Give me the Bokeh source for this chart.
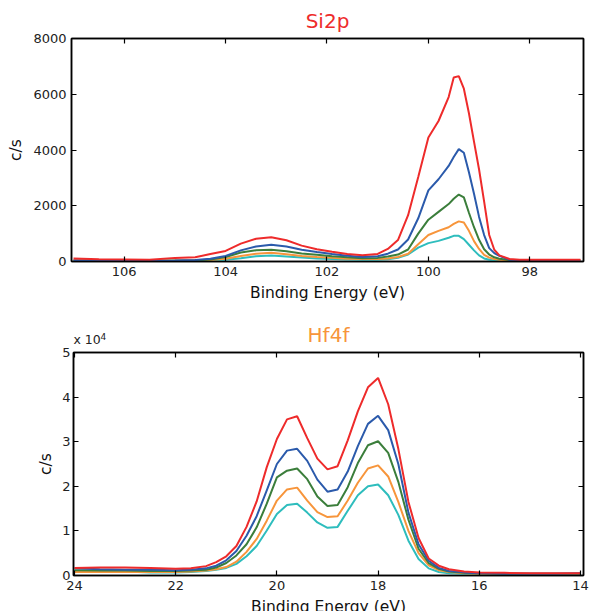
from bokeh.plotting import figure
from bokeh.layouts import column
from bokeh.models import Range1d, LinearAxis, FixedTicker, CustomJSTickFormatter
from bokeh.core.properties import value
from bokeh.embed import file_html
from bokeh.resources import INLINE

# ---------------- Si2p data (c/s) ----------------
si_energy = [107.0, 106.5, 106.0, 105.5, 105.0, 104.6, 104.3, 104.0, 103.7, 103.4,
             103.1, 102.8, 102.5, 102.2, 101.9, 101.6, 101.3, 101.0, 100.8, 100.6,
             100.4, 100.2, 100.0, 99.8, 99.6, 99.5, 99.4, 99.3, 99.2, 99.1,
             99.0, 98.9, 98.8, 98.7, 98.6, 98.4, 98.2, 98.0, 97.5, 97.0]
si_red = [110, 80, 70, 60, 130, 150, 270, 380, 640, 815,
          870, 760, 570, 440, 350, 270, 220, 270, 450, 770,
          1660, 3030, 4450, 5040, 5900, 6600, 6650, 6200, 5320, 4300,
          3300, 2150, 950, 420, 220, 90, 60, 60, 60, 60]
si_blue = [40, 30, 30, 30, 40, 50, 100, 200, 400, 540,
           600, 540, 420, 340, 270, 210, 160, 190, 280, 430,
           790, 1550, 2550, 2950, 3430, 3750, 4030, 3900, 3200, 2430,
           1600, 950, 480, 300, 200, 60, 40, 30, 30, 30]
si_green = [30, 30, 30, 30, 30, 40, 70, 160, 320, 400,
            420, 370, 290, 240, 190, 150, 120, 130, 180, 250,
            430, 1000, 1500, 1780, 2060, 2250, 2400, 2300, 1750, 1230,
            780, 440, 250, 150, 100, 50, 40, 30, 30, 30]
si_orange = [40, 40, 40, 40, 40, 40, 50, 100, 200, 280,
             310, 260, 200, 160, 130, 100, 90, 90, 110, 160,
             280, 620, 950, 1100, 1230, 1350, 1440, 1400, 1100, 730,
             450, 240, 140, 90, 60, 40, 40, 40, 40, 40]
si_teal = [30, 30, 30, 30, 30, 30, 40, 60, 120, 190,
           215, 180, 140, 110, 90, 70, 60, 60, 80, 130,
           250, 500, 660, 740, 850, 920, 920, 800, 600, 400,
           220, 110, 60, 40, 30, 30, 30, 30, 30, 30]

# ---------------- Hf4f data (units of 10^4 c/s) ----------------
hf_energy = [24.0, 23.5, 23.0, 22.5, 22.0, 21.7, 21.4, 21.2, 21.0, 20.8,
             20.6, 20.4, 20.2, 20.0, 19.8, 19.6, 19.4, 19.2, 19.0, 18.8,
             18.6, 18.4, 18.2, 18.0, 17.8, 17.6, 17.4, 17.2, 17.0, 16.8,
             16.6, 16.3, 16.0, 15.5, 15.0, 14.5, 14.0]
hf_red = [0.17, 0.18, 0.18, 0.17, 0.15, 0.16, 0.21, 0.30, 0.43, 0.66,
          1.09, 1.66, 2.43, 3.06, 3.50, 3.57, 3.08, 2.62, 2.38, 2.45,
          3.03, 3.68, 4.22, 4.43, 3.84, 2.84, 1.65, 0.84, 0.38, 0.22,
          0.14, 0.09, 0.07, 0.06, 0.05, 0.05, 0.05]
hf_blue = [0.16, 0.14, 0.13, 0.13, 0.12, 0.13, 0.16, 0.22, 0.34, 0.55,
           0.89, 1.33, 1.91, 2.50, 2.80, 2.84, 2.57, 2.15, 1.88, 1.93,
           2.33, 2.90, 3.40, 3.58, 3.26, 2.50, 1.41, 0.70, 0.33, 0.17,
           0.10, 0.07, 0.05, 0.04, 0.04, 0.04, 0.05]
hf_green = [0.12, 0.11, 0.11, 0.10, 0.10, 0.11, 0.13, 0.18, 0.28, 0.45,
            0.70, 1.08, 1.61, 2.20, 2.35, 2.40, 2.16, 1.77, 1.56, 1.58,
            1.98, 2.52, 2.92, 3.01, 2.75, 2.10, 1.25, 0.60, 0.28, 0.15,
            0.09, 0.06, 0.05, 0.04, 0.04, 0.04, 0.04]
hf_orange = [0.08, 0.08, 0.08, 0.08, 0.08, 0.09, 0.11, 0.14, 0.19, 0.31,
             0.53, 0.82, 1.23, 1.68, 1.93, 1.97, 1.68, 1.42, 1.31, 1.33,
             1.68, 2.08, 2.40, 2.47, 2.22, 1.65, 1.00, 0.50, 0.23, 0.12,
             0.08, 0.05, 0.04, 0.03, 0.03, 0.03, 0.03]
hf_teal = [0.10, 0.10, 0.09, 0.07, 0.07, 0.08, 0.10, 0.13, 0.17, 0.26,
           0.43, 0.66, 1.01, 1.38, 1.58, 1.61, 1.41, 1.19, 1.07, 1.09,
           1.45, 1.80, 2.00, 2.04, 1.80, 1.36, 0.78, 0.37, 0.16, 0.08,
           0.05, 0.04, 0.03, 0.03, 0.03, 0.03, 0.03]

si_x_ticks = [98, 100, 102, 104, 106]
si_y_ticks = [0, 2000, 4000, 6000, 8000]
hf_x_ticks = [14, 16, 18, 20, 22, 24]
hf_y_ticks = [0, 10000, 20000, 30000, 40000, 50000]

FONT = "DejaVu Sans"
RED, BLUE, GREEN, ORANGE, TEAL = "#ee2b2b", "#2b5aab", "#3b7e3b", "#f7953b", "#2ebdbd"
W = 590


def strip(h):
    """Text-only band (pixel coordinates) used for panel titles."""
    f = figure(width=W, height=h, x_range=Range1d(0, W), y_range=Range1d(0, h),
               output_backend="svg", toolbar_location=None, title=None,
               x_axis_location=None, y_axis_location=None, min_border=0,
               frame_align=False)
    f.outline_line_color = None
    f.xgrid.visible = False
    f.ygrid.visible = False
    return f


def put_text(f, x, y, txt, size, color, align="left"):
    f.text(x=[x], y=[y], text=[txt], text_font=value(FONT), text_font_size=value(size),
           text_color=color, text_align=align, text_baseline="middle")


def mirror_axis(ticks):
    return LinearAxis(ticker=FixedTicker(ticks=ticks), major_tick_in=5, major_tick_out=0,
                      minor_tick_line_color=None, axis_line_width=1.5, major_tick_line_width=1.2,
                      major_label_text_font_size="0px", major_label_text_color=None,
                      major_label_standoff=0)


def style_axes(p, xt, yt, yfmt=None):
    for ax in p.xaxis + p.yaxis:
        ax.major_tick_in = 5
        ax.major_tick_out = 0
        ax.minor_tick_line_color = None
        ax.axis_line_width = 1.5
        ax.major_tick_line_width = 1.2
        ax.axis_line_color = "black"
        ax.major_label_text_font = FONT
        ax.major_label_text_font_size = "13px"
        ax.major_label_text_color = "#222222"
        ax.axis_label_text_font = FONT
        ax.axis_label_text_font_size = "15.5px"
        ax.axis_label_text_font_style = "normal"
        ax.axis_label_text_color = "#111111"
    p.xaxis[0].ticker = FixedTicker(ticks=xt)
    p.yaxis[0].ticker = FixedTicker(ticks=yt)
    if yfmt is not None:
        p.yaxis[0].formatter = yfmt
    p.add_layout(mirror_axis(xt), "above")
    p.add_layout(mirror_axis(yt), "right")
    p.xgrid.visible = False
    p.ygrid.visible = False
    p.outline_line_color = "black"
    p.outline_line_width = 1.5


# ---------------- title band 1 ----------------
t1 = strip(32)
put_text(t1, 327, 11.6, "Si2p", "20px", RED, "center")

# ---------------- top figure ----------------
p1 = figure(width=W, height=272, x_range=Range1d(107.04, 96.94), y_range=Range1d(0, 8000),
            output_backend="svg", toolbar_location=None, title=None, frame_align=False,
            min_border_left=71, min_border_right=7, min_border_top=6, min_border_bottom=43,
            x_axis_label="Binding Energy (eV)", y_axis_label="c/s")
for ys, c in [(si_teal, TEAL), (si_orange, ORANGE), (si_green, GREEN), (si_blue, BLUE), (si_red, RED)]:
    p1.line(si_energy, ys, line_color=c, line_width=2)
style_axes(p1, si_x_ticks, si_y_ticks)
p1.xaxis[0].major_label_standoff = 1
p1.xaxis[0].axis_label_standoff = -5
p1.yaxis[0].major_label_standoff = 5
p1.yaxis[0].axis_label_standoff = 5

# ---------------- title band 2 ----------------
t2 = strip(42)
put_text(t2, 328, 11.8, "Hf4f", "20px", ORANGE, "center")
put_text(t2, 73, 7.5, "x 10", "12.5px", "#222222")
put_text(t2, 100, 10.3, "4", "9px", "#222222")

# ---------------- bottom figure ----------------
hf_counts = {k: [v * 10000 for v in vals] for k, vals in
             [("red", hf_red), ("blue", hf_blue), ("green", hf_green), ("orange", hf_orange), ("teal", hf_teal)]}
p2 = figure(width=W, height=272, x_range=Range1d(24.02, 13.94), y_range=Range1d(0, 50000),
            output_backend="svg", toolbar_location=None, title=None, frame_align=False,
            min_border_left=73, min_border_right=7, min_border_top=6, min_border_bottom=43,
            x_axis_label="Binding Energy (eV)", y_axis_label="c/s")
for k, c in [("teal", TEAL), ("orange", ORANGE), ("green", GREEN), ("blue", BLUE), ("red", RED)]:
    p2.line(hf_energy, hf_counts[k], line_color=c, line_width=2)
style_axes(p2, hf_x_ticks, hf_y_ticks, CustomJSTickFormatter(code="return (tick/10000).toFixed(0);"))
p2.xaxis[0].major_label_standoff = 2
p2.xaxis[0].axis_label_standoff = 0
p2.yaxis[0].major_label_standoff = 3
p2.yaxis[0].axis_label_standoff = 4

layout = column(t1, p1, t2, p2)
open("out.html", "w").write(file_html(layout, INLINE))
